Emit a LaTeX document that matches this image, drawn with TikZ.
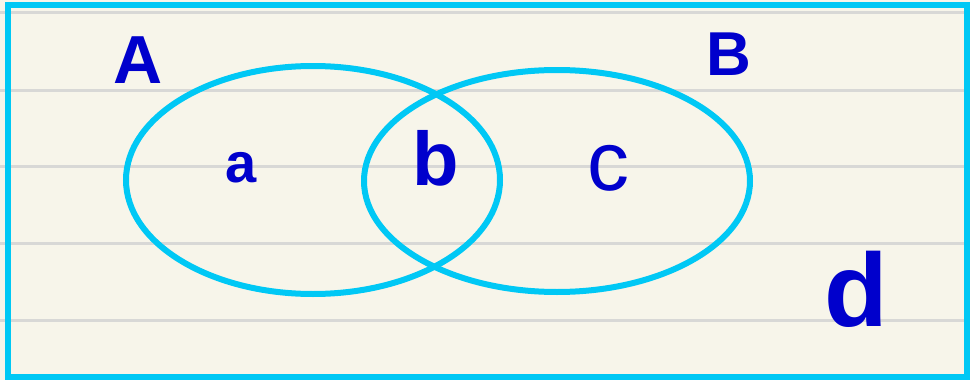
\documentclass[tikz,border=0pt]{standalone}
\usepackage{fontspec}
\setmainfont{Liberation Sans}
\definecolor{paper}{HTML}{F7F5EA}
\definecolor{rule}{HTML}{D8D8D6}
\definecolor{cyanline}{HTML}{00C8F5}
\definecolor{ink}{HTML}{0000CC}
\begin{document}
\begin{tikzpicture}[x=1pt,y=-1pt,
  ruleline/.style={draw=rule,line width=3pt},
  setring/.style={draw=cyanline,line width=6pt},
  letter/.style={text=ink,font=\bfseries,inner sep=0pt,anchor=center}]
\useasboundingbox (0,0) rectangle (970,380);
\fill[paper] (0,0) rectangle (970,380);
\foreach \yy in {12,90,166,243,320}
  \draw[ruleline] (0,\yy) -- (970,\yy);
\draw[setring] (8,5) rectangle (967,377);
\draw[setring] (313,180) ellipse [x radius=187, y radius=114];
\draw[setring] (557,181) ellipse [x radius=193, y radius=111];
\node[letter,font=\bfseries\fontsize{68}{68}\selectfont] (A) at (138,60) {A};
\node[letter,font=\bfseries\fontsize{62}{62}\selectfont] (B) at (729,54) {B};
\node[letter,font=\bfseries\fontsize{56}{56}\selectfont] (a) at (241,168) {a};
\node[letter,font=\bfseries\fontsize{76}{76}\selectfont] (b) at (436,158) {b};
\node[letter,font=\fontsize{84}{84}\selectfont] (c) at (608,168) {c};
\node[letter,font=\bfseries\fontsize{104}{104}\selectfont] (d) at (856,289) {d};
\end{tikzpicture}
\end{document}
